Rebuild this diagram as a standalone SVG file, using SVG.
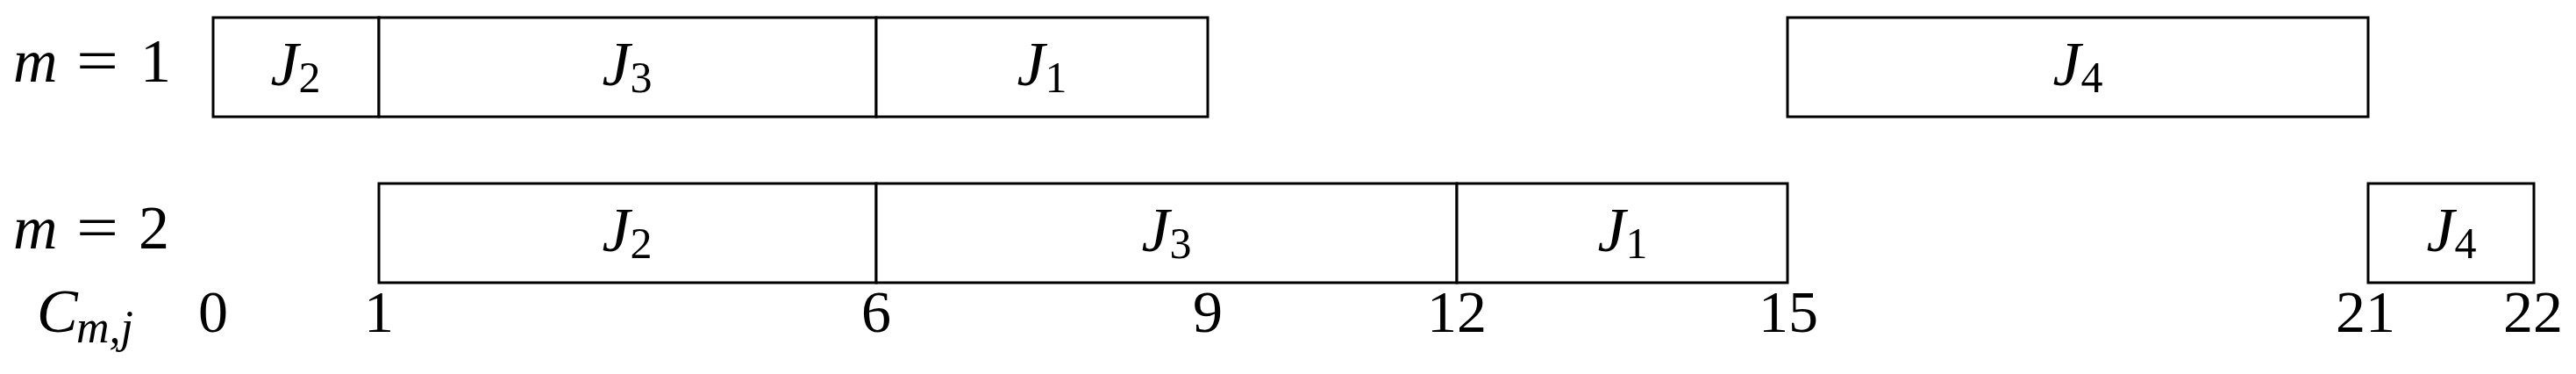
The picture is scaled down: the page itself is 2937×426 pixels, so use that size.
<svg xmlns="http://www.w3.org/2000/svg" width="2937" height="426" viewBox="0 0 2937 426">
<style>
  .box { fill: #ffffff; stroke: #000000; stroke-width: 3; }
  .div { stroke: #000000; stroke-width: 2.4; }
  .t { font-family: "Liberation Serif", "Times New Roman", serif; fill: #000000; }
  .job { font-size: 72px; text-anchor: middle; }
  .it { font-style: italic; }
  .sub { font-size: 50px; font-style: normal; }
  .tick { font-size: 68px; text-anchor: middle; }
  .lab { font-size: 70px; }
</style>
<rect width="2937" height="426" fill="#ffffff"/>

<g id="row-labels">
  <text class="t lab it" x="15" y="93">m</text>
  <text class="t lab" x="87" y="93" textLength="48" lengthAdjust="spacingAndGlyphs">=</text>
  <text class="t lab" x="160" y="93">1</text>
  <text class="t lab it" x="15" y="283">m</text>
  <text class="t lab" x="87" y="283" textLength="48" lengthAdjust="spacingAndGlyphs">=</text>
  <text class="t lab" x="158" y="283">2</text>
  <text class="t lab it" x="42" y="378">C</text>
  <text class="t it" x="87" y="390" font-size="52">m,j</text>
</g>

<g id="m1-J2">
  <rect class="box" x="243" y="20" width="189" height="113"/>
  <text class="t job" x="337" y="97"><tspan class="it">J</tspan><tspan class="sub" dy="8">2</tspan></text>
</g>
<g id="m1-J3">
  <rect class="box" x="432" y="20" width="567" height="113"/>
  <text class="t job" x="715" y="97"><tspan class="it">J</tspan><tspan class="sub" dy="8">3</tspan></text>
</g>
<g id="m1-J1">
  <rect class="box" x="999" y="20" width="378" height="113"/>
  <text class="t job" x="1188" y="97"><tspan class="it">J</tspan><tspan class="sub" dy="8">1</tspan></text>
</g>
<g id="m1-J4">
  <rect class="box" x="2038" y="20" width="662" height="113"/>
  <text class="t job" x="2369" y="97"><tspan class="it">J</tspan><tspan class="sub" dy="8">4</tspan></text>
</g>

<g id="m2-J2">
  <rect class="box" x="432" y="209" width="567" height="113"/>
  <text class="t job" x="715" y="286"><tspan class="it">J</tspan><tspan class="sub" dy="8">2</tspan></text>
</g>
<g id="m2-J3">
  <rect class="box" x="999" y="209" width="662" height="113"/>
  <text class="t job" x="1330" y="286"><tspan class="it">J</tspan><tspan class="sub" dy="8">3</tspan></text>
</g>
<g id="m2-J1">
  <rect class="box" x="1661" y="209" width="377" height="113"/>
  <text class="t job" x="1850" y="286"><tspan class="it">J</tspan><tspan class="sub" dy="8">1</tspan></text>
</g>
<g id="m2-J4">
  <rect class="box" x="2700" y="209" width="189" height="113"/>
  <text class="t job" x="2795" y="286"><tspan class="it">J</tspan><tspan class="sub" dy="8">4</tspan></text>
</g>

<g id="connectors"></g>

<g id="time-axis">
  <text class="t tick" x="243" y="378">0</text>
  <text class="t tick" x="432" y="378">1</text>
  <text class="t tick" x="999" y="378">6</text>
  <text class="t tick" x="1377" y="378">9</text>
  <text class="t tick" x="1661" y="378">12</text>
  <text class="t tick" x="2039" y="378">15</text>
  <text class="t tick" x="2697" y="378">21</text>
  <text class="t tick" x="2888" y="378">22</text>
</g>
</svg>
